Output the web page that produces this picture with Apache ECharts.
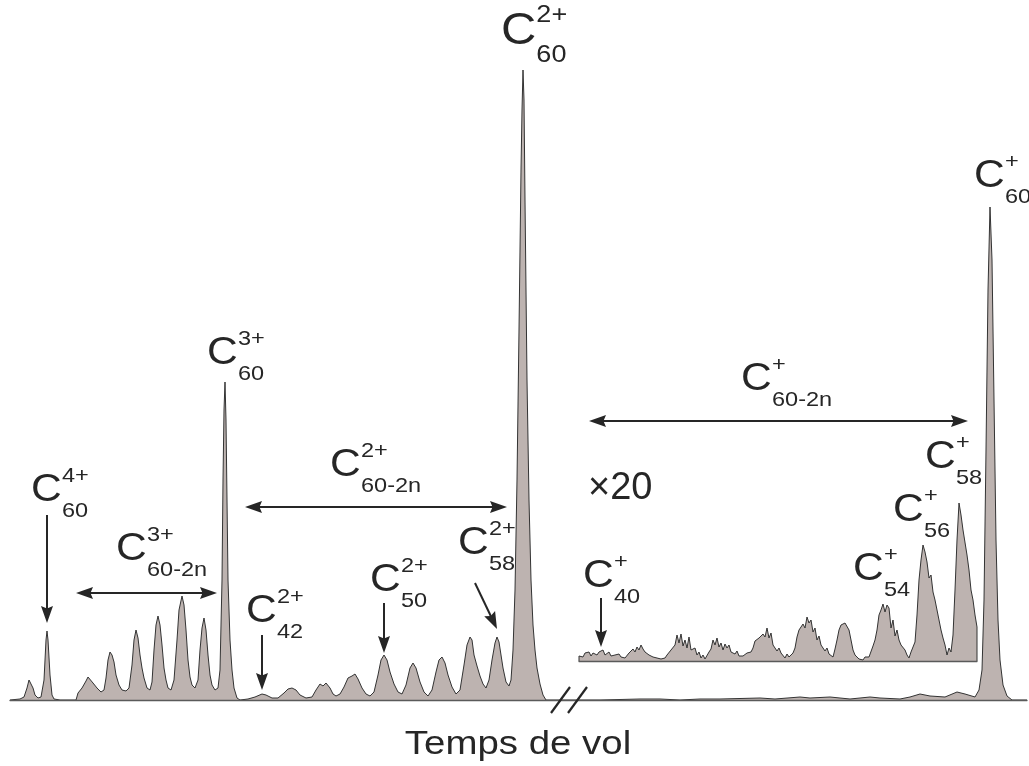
<!DOCTYPE html>
<html><head><meta charset="utf-8">
<script src="https://cdn.jsdelivr.net/npm/echarts@6/dist/echarts.min.js"></script>
<style>html,body{margin:0;padding:0;background:#fff}#c{width:1029px;height:766px}</style>
</head><body><div id="c"></div>
<script>
// ---- data (time-of-flight in arbitrary units, signal in arbitrary units) ----
const mainTime = [10,20,24,27,29,31,33,35,38,41,44,46,47,48,50,52,54,60,76,78,82,86,88,90,93,97,101,104,106,108,110,112,114,116,119,122,126,129,132,134,136,138,140,142,144,147,150,152,154,156,158,160,162,164,166,168,171,174,177,179,182,184,186,188,190,192,195,198,200,202,204,206,208,210,212,215,218,220,222,223,224,225,226,227,228,230,232,234,237,240,248,255,262,266,272,278,284,288,292,296,300,306,312,316,320,323,326,328,330,333,336,340,344,348,352,355,358,362,366,370,374,378,381,384,387,390,394,398,402,406,410,413,416,420,424,428,432,436,439,442,445,448,452,456,460,464,467,470,472,474,477,480,483,486,489,492,495,497,499,501,503,506,509,511,513,515,517,519,521,522,523,524,525,527,529,531,533,535,537,540,543,546,560,600,640,660,680,700,720,760,775,800,810,830,850,870,880,900,910,920,930,945,957,965,975,979,982,984,986,988,990,992,994,996,998,1000,1003,1007,1012,1027];
const mainSignal = [0,1,3,12,20,19,12,5,2,3,20,60,69,60,25,5,1,0,0,7,12,19,23,22,17,12,8,10,22,40,48,45,38,25,15,10,9,12,35,60,70,62,45,32,22,12,10,18,50,75,84,75,55,32,20,12,10,20,60,90,104,95,70,40,23,15,12,20,50,72,82,70,45,25,15,10,12,30,120,220,290,318,280,200,120,60,30,12,2,0,1,3,6,5,2,2,7,11,12,10,5,2,3,10,16,14,17,18,12,6,4,6,13,22,24,26,21,12,6,4,8,25,40,45,40,28,16,8,6,15,32,37,32,18,8,4,10,28,40,43,37,25,13,6,10,35,55,63,60,45,34,24,16,12,20,40,57,63,58,45,32,18,14,20,50,110,220,370,530,590,630,600,500,320,200,120,75,50,32,16,5,0,0,0,1,1,0,1,1,2,1,3,2,3,1,3,2,1,3,6,4,3,8,6,3,10,30,100,250,410,493,440,300,160,80,40,15,4,0,0];
// inset (x20 magnification of the C+ region)
const insetTime = [579,579,581,583,585,587,589,591,593,595,597,599,601,603,605,607,609,611,613,615,617,619,621,623,625,627,629,631,633,635,637,639,641,643,645,647,649,651,653,655,657,659,661,663,665,667,669,671,673,675,677,679,681,683,685,687,689,691,693,695,697,699,701,703,705,707,709,711,713,715,717,719,721,723,725,727,729,731,733,735,737,739,741,743,745,747,749,751,753,755,757,759,761,763,765,767,769,771,773,775,777,779,781,783,785,787,789,791,793,795,797,799,801,803,805,807,809,811,813,815,817,819,821,823,825,827,829,831,833,835,837,839,841,843,845,847,849,851,853,855,857,859,861,863,865,867,869,871,873,875,877,879,881,883,885,887,889,891,893,895,897,899,901,903,905,907,909,911,913,915,917,919,921,923,925,927,929,931,933,935,937,939,941,943,945,947,949,951,953,955,957,959,961,963,965,967,969,971,973,975,977,977];
const insetSignal = [0,5,7,4,8,6,9,5,8,10,6,9,7,11,6,4,9,5,3,6,4,7,4,6,3,5,8,6,12,9,14,11,16,12,9,11,6,8,4,6,3,5,2,4,3,6,7,11,9,16,26,18,27,15,21,13,24,11,9,13,6,9,3,6,2,4,9,12,21,16,23,14,18,11,17,13,16,9,11,7,10,5,7,5,6,8,6,9,13,20,19,23,21,27,24,33,23,28,16,17,10,13,8,6,3,7,4,6,8,13,24,31,29,37,33,44,38,41,29,33,21,25,16,17,10,13,7,9,4,12,21,31,36,35,38,36,31,21,11,6,4,2,3,1,4,2,4,6,15,21,31,46,51,57,49,56,53,33,41,25,31,21,16,15,11,6,3,9,11,19,46,81,101,116,109,99,83,86,69,61,51,41,31,23,16,6,13,9,26,71,121,158,146,131,133,106,91,71,61,46,34,0];
// ion labels
const ionSups = ['4+','3+','3+','2+','2+','2+','2+','2+','+','+','+','+','+','+'];
const ionSubs = ['60','60-2n','60','42','60-2n','50','58','60','60','60-2n','58','56','54','40'];
const axisTitle = 'Temps de vol';
const gainText = '\u00d720';

// ---- layout (data coordinates of annotation anchors, label scale) ----
const labelAt = [[33,223],[118,164],[209,360],[248,102],[332,248],[372,133],[460,170],[503,684],[976,537],[743,334],[927,256],[895,203],[855,144],[585,137]];
const labelScale = [1,1,1,1,1,1,1,1.15,1,1,1,1,1,1];
const arrows = [
  {from:[47,185], to:[47,77], both:false},
  {from:[76,107], to:[217,107], both:true},
  {from:[262,65], to:[262,10], both:false},
  {from:[245,193], to:[507,193], both:true},
  {from:[384,97], to:[384,47], both:false},
  {from:[475,117], to:[497,71], both:false},
  {from:[589,279], to:[968,279], both:true},
  {from:[601,102], to:[601,53], both:false}
];
const breakMarks = [[[551,-13],[570,13]],[[568,-13],[587,13]]];

const FILL = '#bdb3b0', LINE = '#333333', INK = '#262626';
const FF = "'Liberation Sans', Arial, Helvetica, sans-serif";
const SX = 1.12;

const chart = echarts.init(document.getElementById('c'), null, {renderer:'canvas'});
const hiddenAxis = {axisTick:{show:false},axisLabel:{show:false},splitLine:{show:false}};
chart.setOption({
  animation:false,
  backgroundColor:'#ffffff',
  grid:[{left:10,right:2,top:0,bottom:66},{left:579,right:52,top:0,bottom:105}],
  xAxis:[
    Object.assign({type:'value',gridIndex:0,min:10,max:1027,z:10,axisLine:{show:true,onZero:false,lineStyle:{color:'#5a5a5a',width:1.3}}},hiddenAxis),
    Object.assign({type:'value',gridIndex:1,min:579,max:977,z:10,axisLine:{show:true,onZero:false,lineStyle:{color:'#5a5a5a',width:1.3}}},hiddenAxis)
  ],
  yAxis:[
    {type:'value',gridIndex:0,min:0,max:700,show:false},
    {type:'value',gridIndex:1,min:0,max:661,show:false}
  ],
  series:[
    {type:'line',xAxisIndex:0,yAxisIndex:0,data:mainTime.map((t,i)=>[t,mainSignal[i]]),symbol:'none',
     lineStyle:{color:LINE,width:1},areaStyle:{color:FILL,opacity:1},z:2},
    {type:'line',xAxisIndex:1,yAxisIndex:1,data:insetTime.map((t,i)=>[t,insetSignal[i]]),symbol:'none',
     lineStyle:{color:LINE,width:1},areaStyle:{color:FILL,opacity:1},z:3}
  ]
});

const P = (pt) => chart.convertToPixel({gridIndex:0}, pt);
const g = [];
function txt(x, y, text, size, align, sx) {
  g.push({type:'text', x:x, y:y, scaleX:sx||SX, z:20,
    style:{text:text, fontSize:size, fontFamily:FF, fill:INK, align:align||'left', verticalAlign:'middle'}});
}
labelAt.forEach((a,i)=>{
  const [x,y] = P(a);
  const k = labelScale[i];
  txt(x-2, y+14*k, 'C', 38*k);
  txt(x+29*k, y-1*k, ionSups[i], 21*k);
  txt(x+29*k, y+34*k, ionSubs[i], 21*k);
});
function head(tip, ux, uy) {
  const HL=17, HW=6, nx=-uy, ny=ux;
  g.push({type:'polygon', z:20, shape:{points:[tip,[tip[0]-ux*HL+nx*HW, tip[1]-uy*HL+ny*HW],[tip[0]-ux*HL*0.85, tip[1]-uy*HL*0.85],[tip[0]-ux*HL-nx*HW, tip[1]-uy*HL-ny*HW]]},
    style:{fill:INK}});
}
arrows.forEach(a=>{
  const p1=P(a.from), p2=P(a.to);
  const dx=p2[0]-p1[0], dy=p2[1]-p1[1], L=Math.hypot(dx,dy), ux=dx/L, uy=dy/L;
  const s = a.both ? [p1[0]+ux*10, p1[1]+uy*10] : p1;
  const e = [p2[0]-ux*10, p2[1]-uy*10];
  g.push({type:'line', z:20, shape:{x1:s[0],y1:s[1],x2:e[0],y2:e[1]}, style:{stroke:INK, lineWidth:2}});
  head(p2, ux, uy);
  if (a.both) head(p1, -ux, -uy);
});
breakMarks.forEach(b=>{
  const p1=P(b[0]), p2=P(b[1]);
  g.push({type:'line', z:20, shape:{x1:p1[0],y1:p1[1],x2:p2[0],y2:p2[1]}, style:{stroke:INK, lineWidth:2.2}});
});
const gp = P([588,225]);
g.push({type:'text', x:gp[0], y:gp[1]+14, z:20, style:{text:gainText, fontSize:38, fontFamily:FF, fill:INK, verticalAlign:'middle'}});
const tp = P([518,-45]);
g.push({type:'text', x:tp[0], y:tp[1], scaleX:1.13, z:20, style:{text:axisTitle, fontSize:34, fontFamily:FF, fill:INK, align:'center', verticalAlign:'middle'}});
chart.setOption({graphic:g});
</script>
</body></html>
